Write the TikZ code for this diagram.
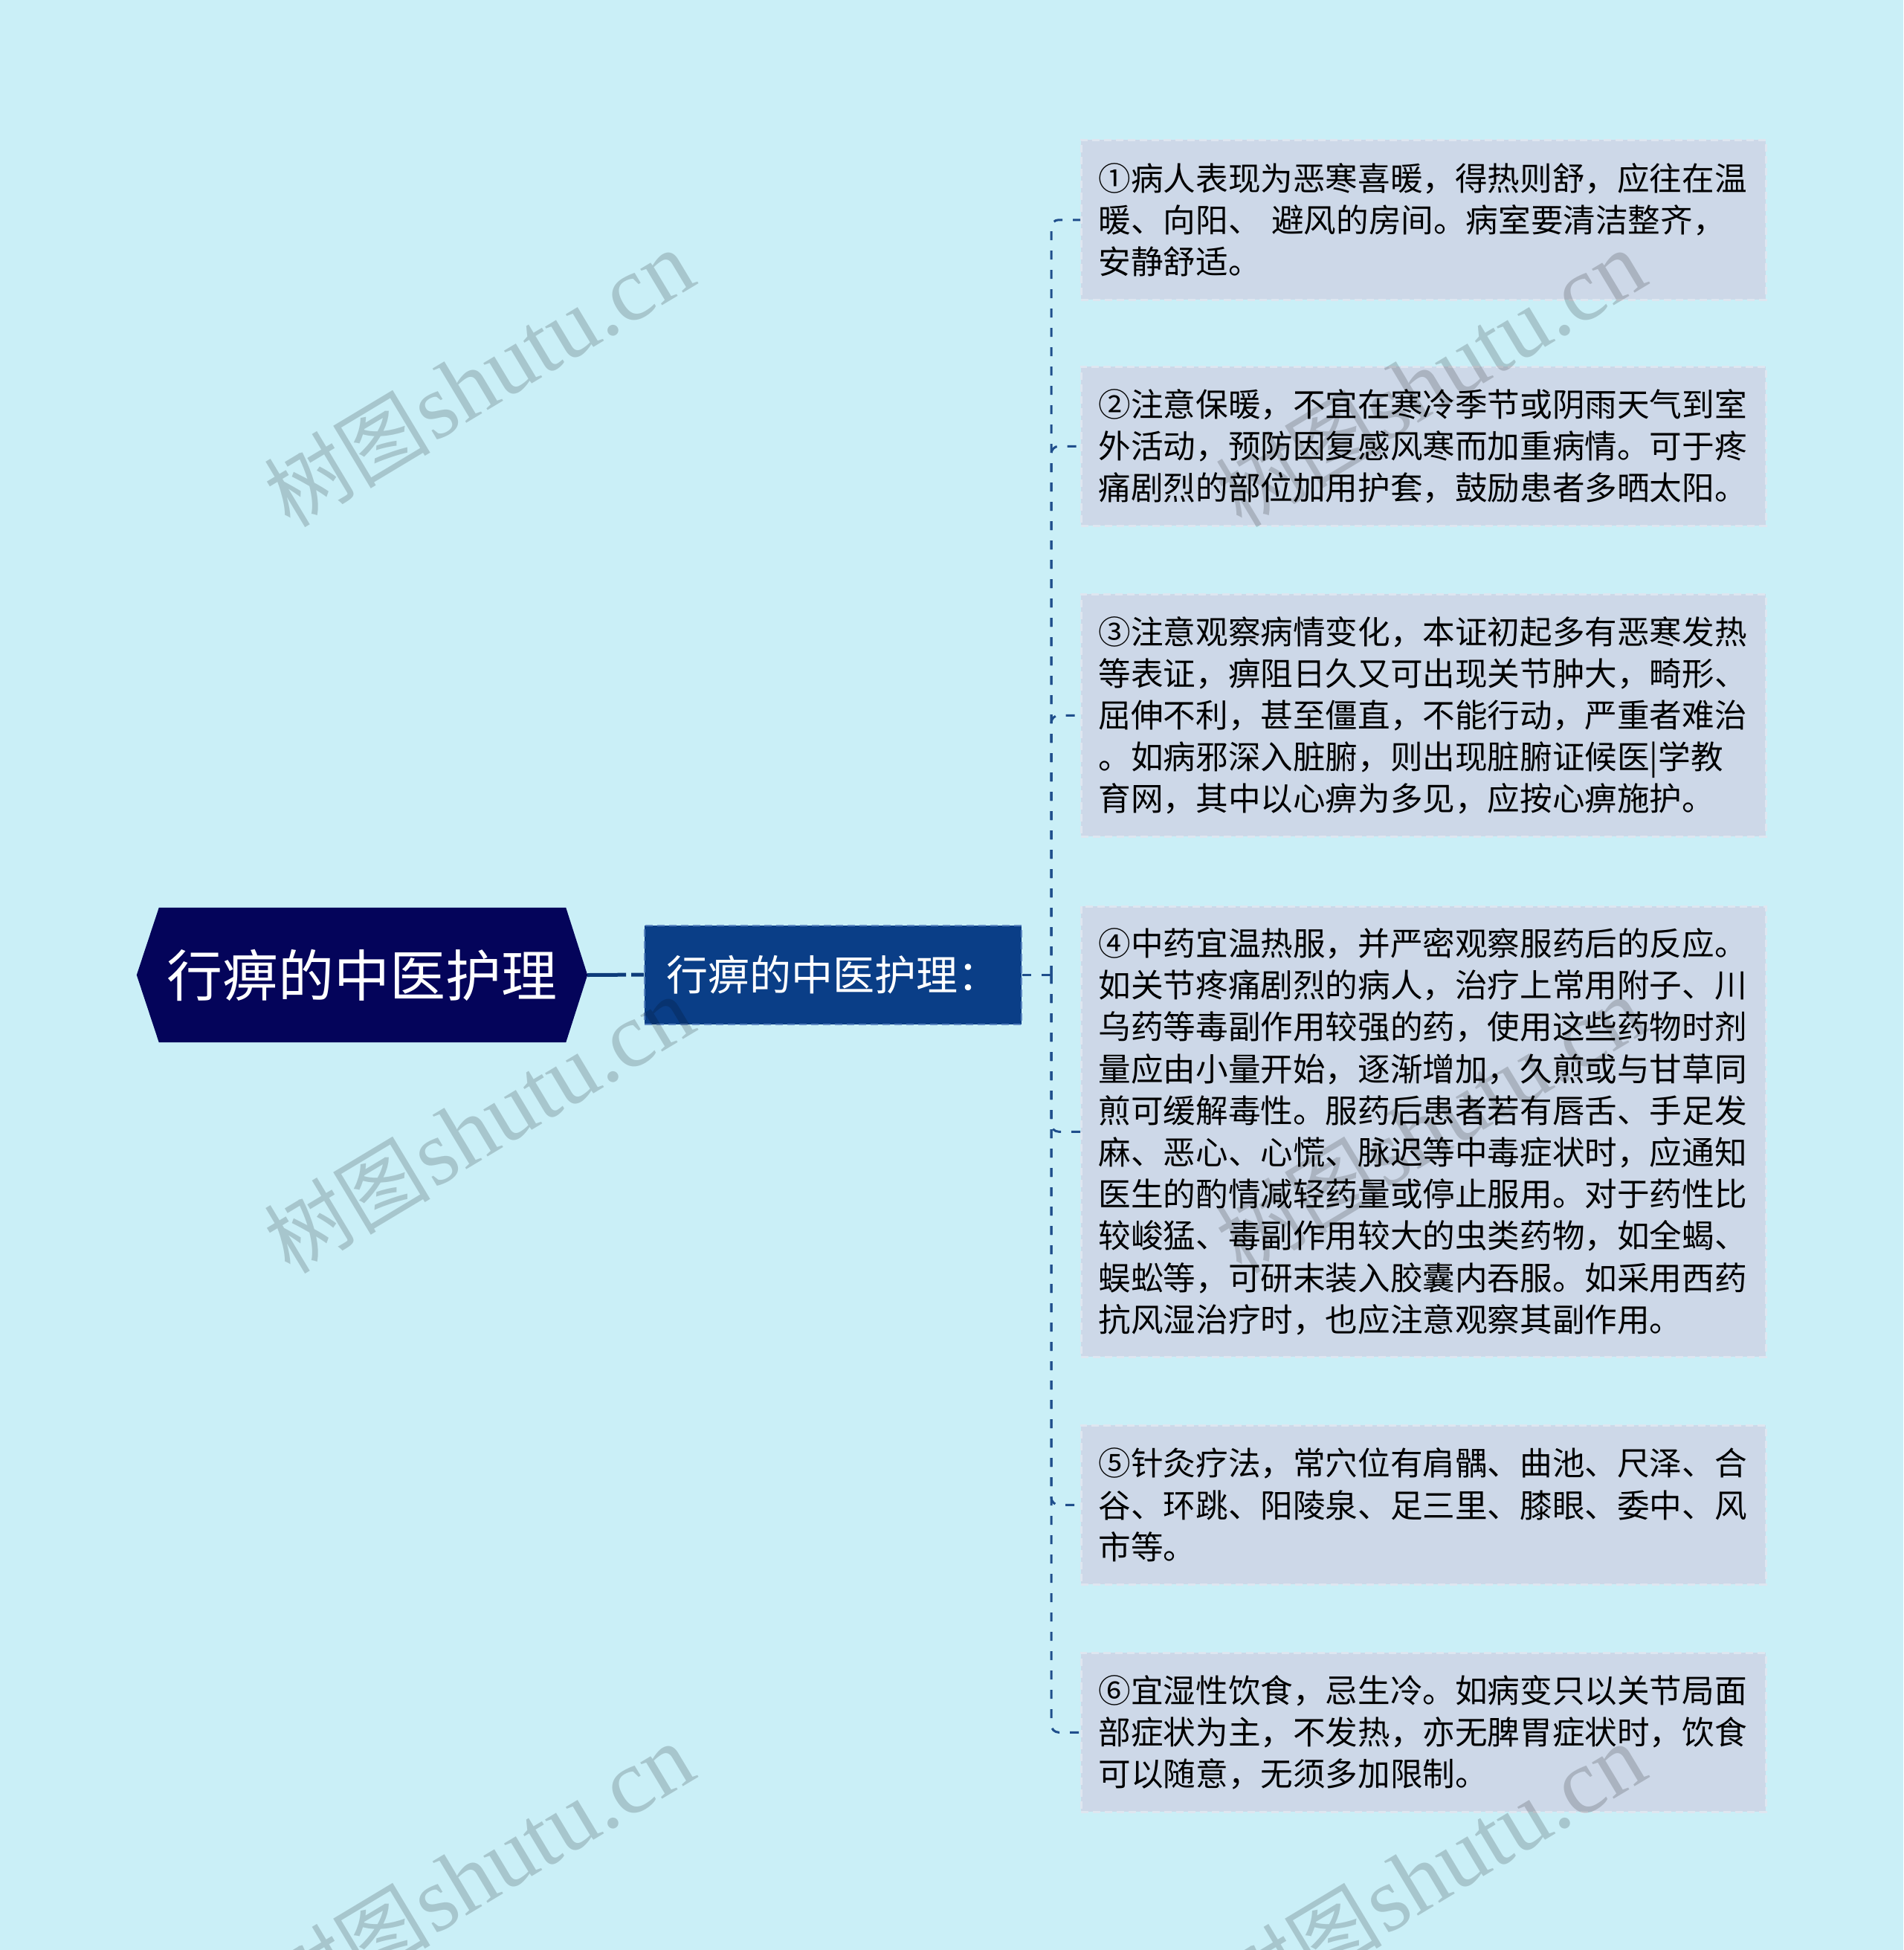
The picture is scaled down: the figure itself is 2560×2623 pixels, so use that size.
\documentclass[tikz,border=0pt]{standalone}
\usepackage{fontspec}
\newfontfamily\cjk{Noto Sans CJK SC}
\newfontfamily\wmlatin{Liberation Serif}
\usetikzlibrary{calc}
\definecolor{bgc}{HTML}{CAEFF7}
\definecolor{rootc}{HTML}{04045A}
\definecolor{subc}{HTML}{0A3E87}
\definecolor{subborder}{HTML}{5B86C0}
\definecolor{leafc}{HTML}{CDD8E8}
\definecolor{leafborder}{HTML}{DEE6F0}
\definecolor{connc}{HTML}{1F4E8C}
\definecolor{mainc}{HTML}{0D3B7A}
\pgfdeclarelayer{background}
\pgfsetlayers{background,main}
\tikzset{
  rootnode/.style={minimum width=606pt, minimum height=181pt, inner sep=0pt,
    text=white, font=\cjk\fontsize{75pt}{80pt}\selectfont},
  subnode/.style={minimum width=507pt, minimum height=133pt, inner sep=0pt,
    fill=subc, draw=subborder, line width=2pt, dash pattern=on 10pt off 6pt,
    text=white, font=\cjk\fontsize{56pt}{60pt}\selectfont},
  leaf/.style={anchor=north west, minimum height=#1, text width=874pt, align=left,
    inner xsep=23.5pt, inner ysep=0pt, fill=leafc, draw=leafborder, line width=2.5pt,
    dash pattern=on 10pt off 6pt, text=black,
    font=\cjk\fontsize{43.6pt}{56.2pt}\selectfont},
  conn/.style={draw=connc, line width=3pt, dash pattern=on 12pt off 14pt},
  mainline/.style={draw=mainc, line width=5pt, dash pattern=on 52pt off 7pt},
  wm/.style={rotate=31, text=black, text opacity=0.17, inner sep=0pt}
}
\newcommand{\wmtext}{{\fontsize{112pt}{120pt}\selectfont\cjk 树图}\,{\fontsize{124pt}{120pt}\selectfont\wmlatin shutu.cn}}
\begin{document}
\begin{tikzpicture}[x=1pt, y=-1pt]
\useasboundingbox (0,0) rectangle (2560,2623);

% root
\node[rootnode] (root) at (487,1311.5) {行痹的中医护理};
\begin{pgfonlayer}{background}
\fill[bgc] (0,0) rectangle (2560,2623);
\fill[rootc] (root.west) -- ([xshift=30pt]root.north west) -- ([xshift=-29pt]root.north east)
  -- (root.east) -- ([xshift=-29pt]root.south east) -- ([xshift=30pt]root.south west) -- cycle;
\end{pgfonlayer}

% sub
\node[subnode] (sub) at (1120.5,1311) {行痹的中医护理：};
\draw[mainline] (root.east) -- (sub.west);

% leaves
\node[leaf=215pt] (l1) at (1453,187) {①病人表现为恶寒喜暖，得热则舒，应往在温\\暖、向阳、 避风的房间。病室要清洁整齐，\\安静舒适。};
\node[leaf=214pt] (l2) at (1453,492) {②注意保暖，不宜在寒冷季节或阴雨天气到室\\外活动，预防因复感风寒而加重病情。可于疼\\痛剧烈的部位加用护套，鼓励患者多晒太阳。};
\node[leaf=326pt] (l3) at (1453,798) {③注意观察病情变化，本证初起多有恶寒发热\\等表证，痹阻日久又可出现关节肿大，畸形、\\屈伸不利，甚至僵直，不能行动，严重者难治\\。如病邪深入脏腑，则出现脏腑证候医|学教\\育网，其中以心痹为多见，应按心痹施护。};
\node[leaf=606pt] (l4) at (1453,1218) {④中药宜温热服，并严密观察服药后的反应。\\如关节疼痛剧烈的病人，治疗上常用附子、川\\乌药等毒副作用较强的药，使用这些药物时剂\\量应由小量开始，逐渐增加，久煎或与甘草同\\煎可缓解毒性。服药后患者若有唇舌、手足发\\麻、恶心、心慌、脉迟等中毒症状时，应通知\\医生的酌情减轻药量或停止服用。对于药性比\\较峻猛、毒副作用较大的虫类药物，如全蝎、\\蜈蚣等，可研末装入胶囊内吞服。如采用西药\\抗风湿治疗时，也应注意观察其副作用。};
\node[leaf=214pt] (l5) at (1453,1916) {⑤针灸疗法，常穴位有肩髃、曲池、尺泽、合\\谷、环跳、阳陵泉、足三里、膝眼、委中、风\\市等。};
\node[leaf=214pt] (l6) at (1453,2222) {⑥宜湿性饮食，忌生冷。如病变只以关节局面\\部症状为主，不发热，亦无脾胃症状时，饮食\\可以随意，无须多加限制。};

% connectors
\coordinate (trunk) at (1414,1311);
\draw[conn] (sub.east) -- (trunk);
\foreach \l in {l1,l2,l3,l4,l5,l6}{
  \draw[conn, rounded corners=10pt] (trunk) |- (\l.west);
}

% watermarks
\node[wm] (wm1) at (644,510) {\wmtext};
\node[wm] (wm2) at (1924,510) {\wmtext};
\node[wm] (wm3) at (644,1514) {\wmtext};
\node[wm] (wm4) at (1924,1514) {\wmtext};
\node[wm] (wm5) at (644,2518) {\wmtext};
\node[wm] (wm6) at (1924,2518) {\wmtext};
\end{tikzpicture}
\end{document}
